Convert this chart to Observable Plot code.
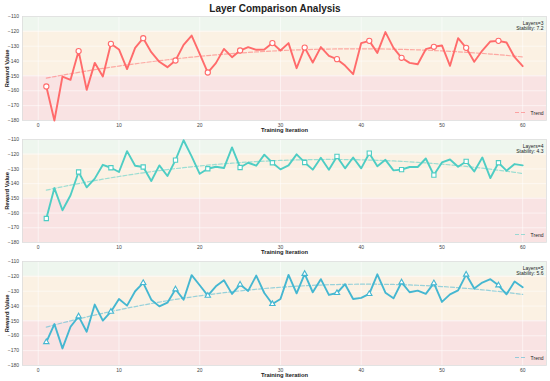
<!DOCTYPE html>
<html>
<head>
<meta charset="utf-8">
<script src="https://cdn.jsdelivr.net/npm/d3@7"></script>
<script src="https://cdn.jsdelivr.net/npm/@observablehq/plot@0.6"></script>
<style>
  body { margin: 0; background: #fff; font-family: "Liberation Sans", Arial, sans-serif; }
  #wrap { position: relative; width: 550px; height: 381px; overflow: hidden; }
  #title { position: absolute; left: 0; top: 0; width: 550px; height: 16px; line-height: 17px; text-align: center; font-weight: bold; font-size: 10px; color: #222; z-index: 2; }
  .panel { position: absolute; left: 0; }
  .panel svg [aria-label="y-axis label"] text, .panel svg [aria-label="x-axis label"] text { font-weight: bold; font-size: 5.8px; fill: #222; }
</style>
</head>
<body>
<div id="wrap">
  <div id="title">Layer Comparison Analysis</div>
</div>
<script>
const iterations = d3.range(1, 61);

const layers3 = [-157.1,-180,-150.4,-152.6,-133.3,-159.4,-141.2,-150.4,-128.4,-132.2,
  -145.4,-131.1,-124.6,-134,-140.5,-144.1,-139.6,-129.1,-122.8,-135.1,
  -147.7,-141.4,-131.8,-137.4,-132.9,-130.6,-132.4,-132.2,-127.9,-132.9,
  -127.9,-144.8,-130.9,-141,-130.6,-136.5,-138.7,-143,-148.8,-127.9,
  -126.4,-134.5,-120.5,-131.1,-137.8,-141.2,-142.1,-132,-130.4,-129.5,
  -143.2,-124.6,-131.1,-140.5,-132.9,-126.8,-126.4,-127.5,-137.4,-143.4];

const layers4 = [-163.7,-143,-158.1,-147.9,-132.1,-142.5,-136.6,-127.2,-129.2,-132.1,
  -117.9,-127.8,-128.7,-138.2,-127.6,-134.8,-124,-110.5,-121.5,-133.3,
  -129.9,-128.5,-129.4,-115.4,-129,-125.8,-127.8,-120.3,-125.8,-130.3,
  -127.6,-120.1,-125.6,-130.5,-122.4,-130.5,-121.5,-129.6,-122.2,-129.6,
  -119.3,-128.1,-123.8,-131,-130.5,-128.7,-128.7,-122.9,-134.2,-125.6,
  -123.6,-128.5,-124.9,-131.7,-122.2,-136.2,-125.8,-131.2,-126.7,-127.6];

const layers5 = [-164.2,-152.1,-168.5,-153.9,-146.9,-157.3,-139,-149.8,-143.8,-135.2,
  -139.7,-130,-124.4,-135.7,-140.2,-137.7,-128.7,-135.7,-119.2,-126,
  -133,-126.7,-122.6,-131.8,-125.5,-129.8,-119.5,-131.2,-138.6,-135.2,
  -119,-131.4,-118.3,-130.7,-121.9,-132.5,-131.2,-125.3,-135.2,-134.5,
  -131.8,-118.6,-131,-134.8,-124,-130.7,-129.6,-131.8,-124.6,-137.2,
  -132.1,-129.4,-118.8,-128.2,-124.2,-121.9,-126,-132.1,-123.5,-127.3];

const panelNames = ["Layers=3", "Layers=4", "Layers=5"];
const stability = ["7.2", "4.3", "5.6"];
const colors = ["#FF6B6B", "#4ECDC4", "#45B7D1"];
const symbols = ["circle", "square", "triangle"];
const markerR = [2.6, 2.4, 2.0];
const seriesList = [layers3, layers4, layers5];

const zoneLow = [-120, -150, -180];
const zoneHigh = [-110, -120, -150];
const zoneColors = ["#eef6ee", "#fbf1e3", "#f9e3e3"];

const xTicks = [0, 10, 20, 30, 40, 50, 60];
const yTicks = [-180, -170, -160, -150, -140, -130, -120, -110];

// quadratic least-squares trend fitted to the data
function quadFit(xs, ys) {
  const n = xs.length;
  let s = [0,0,0,0,0], t = [0,0,0];
  for (let i = 0; i < n; i++) {
    const x = xs[i], y = ys[i];
    let p = 1;
    for (let k = 0; k < 5; k++) { s[k] += p; if (k < 3) t[k] += p * y; p *= x; }
  }
  const A = [[s[0], s[1], s[2], t[0]], [s[1], s[2], s[3], t[1]], [s[2], s[3], s[4], t[2]]];
  for (let i = 0; i < 3; i++) {
    for (let j = i + 1; j < 3; j++) {
      const f = A[j][i] / A[i][i];
      for (let k = i; k < 4; k++) A[j][k] -= f * A[i][k];
    }
  }
  const c = [0,0,0];
  for (let i = 2; i >= 0; i--) {
    let v = A[i][3];
    for (let k = i + 1; k < 3; k++) v -= A[i][k] * c[k];
    c[i] = v / A[i][i];
  }
  return xs.map(x => c[0] + c[1] * x + c[2] * x * x);
}

const fmt = d3.format("");
const layout = [
  {top: 0, height: 137, mt: 16, mb: 17},
  {top: 123, height: 137, mt: 16, mb: 18},
  {top: 245, height: 136, mt: 16, mb: 16}
];

const wrap = document.getElementById("wrap");

seriesList.forEach((vals, p) => {
  const data = iterations.map((it, i) => ({it, v: vals[i], i}));
  const trendVals = quadFit(iterations, vals);
  const trend = iterations.map((it, i) => ({it, v: trendVals[i]}));
  const zones = zoneLow.map((lo, i) => ({lo, hi: zoneHigh[i], color: zoneColors[i]}));
  const L = layout[p];
  const color = colors[p];

  const legendMark = (index, scales, values, dims) => {
    const x2 = dims.width - dims.marginRight - 19;
    const y = dims.height - dims.marginBottom - 7.5;
    const g = d3.create("svg:g");
    g.append("line").attr("x1", x2 - 12).attr("x2", x2).attr("y1", y).attr("y2", y)
      .attr("stroke", color).attr("stroke-opacity", 0.55).attr("stroke-width", 1.2)
      .attr("stroke-dasharray", "4,2");
    return g.node();
  };

  const chart = Plot.plot({
    width: 550,
    height: L.height,
    marginLeft: 22,
    marginRight: 4,
    marginTop: L.mt,
    marginBottom: L.mb,
    style: {fontFamily: "Liberation Sans, Arial, sans-serif", background: "transparent"},
    x: {domain: [-1.95, 62.95]},
    y: {domain: [-180, -110]},
    marks: [
      Plot.rect(zones, {y1: "lo", y2: "hi", fill: "color"}),
      Plot.gridX(xTicks, {stroke: "#ffffff", strokeOpacity: 0.9, strokeWidth: 0.6}),
      Plot.gridY(yTicks, {stroke: "#ffffff", strokeOpacity: 0.9, strokeWidth: 0.6}),
      Plot.frame({stroke: "#dddddd", strokeWidth: 0.8}),
      Plot.axisX({ticks: xTicks, tickSize: 0, tickPadding: 2.5, fontSize: 5, fill: "#444",
        tickFormat: fmt, label: "Training Iteration", labelAnchor: "center", labelArrow: "none", labelOffset: 11}),
      Plot.axisY({ticks: yTicks, tickSize: 0, tickPadding: 3.5, fontSize: 5, fill: "#444",
        tickFormat: fmt, label: "Reward Value", labelAnchor: "center", labelArrow: "none", labelOffset: 18}),
      Plot.line(trend, {x: "it", y: "v", stroke: color, strokeOpacity: 0.55, strokeWidth: 1.2, strokeDasharray: "4,2"}),
      Plot.line(data, {x: "it", y: "v", stroke: color, strokeWidth: 1.9, strokeLinejoin: "round"}),
      Plot.dot(data.filter(d => d.i % 4 === 0), {x: "it", y: "v", symbol: () => symbols[p], r: markerR[p],
        fill: "white", stroke: color, strokeWidth: 1.1}),
      Plot.text([`${panelNames[p]}\nStability: ${stability[p]}`], {frameAnchor: "top-right", dx: -3, dy: 4.5,
        textAnchor: "end", lineAnchor: "top", fontSize: 5, fill: "#222", lineHeight: 1.1}),
      Plot.text(["Trend"], {frameAnchor: "bottom-right", dx: -3, dy: -7.5, textAnchor: "end", lineAnchor: "middle",
        fontSize: 5, fill: "#222"}),
      legendMark
    ]
  });
  const holder = document.createElement("div");
  holder.className = "panel";
  holder.style.top = L.top + "px";
  holder.appendChild(chart);
  wrap.appendChild(holder);
});
</script>
</body>
</html>
